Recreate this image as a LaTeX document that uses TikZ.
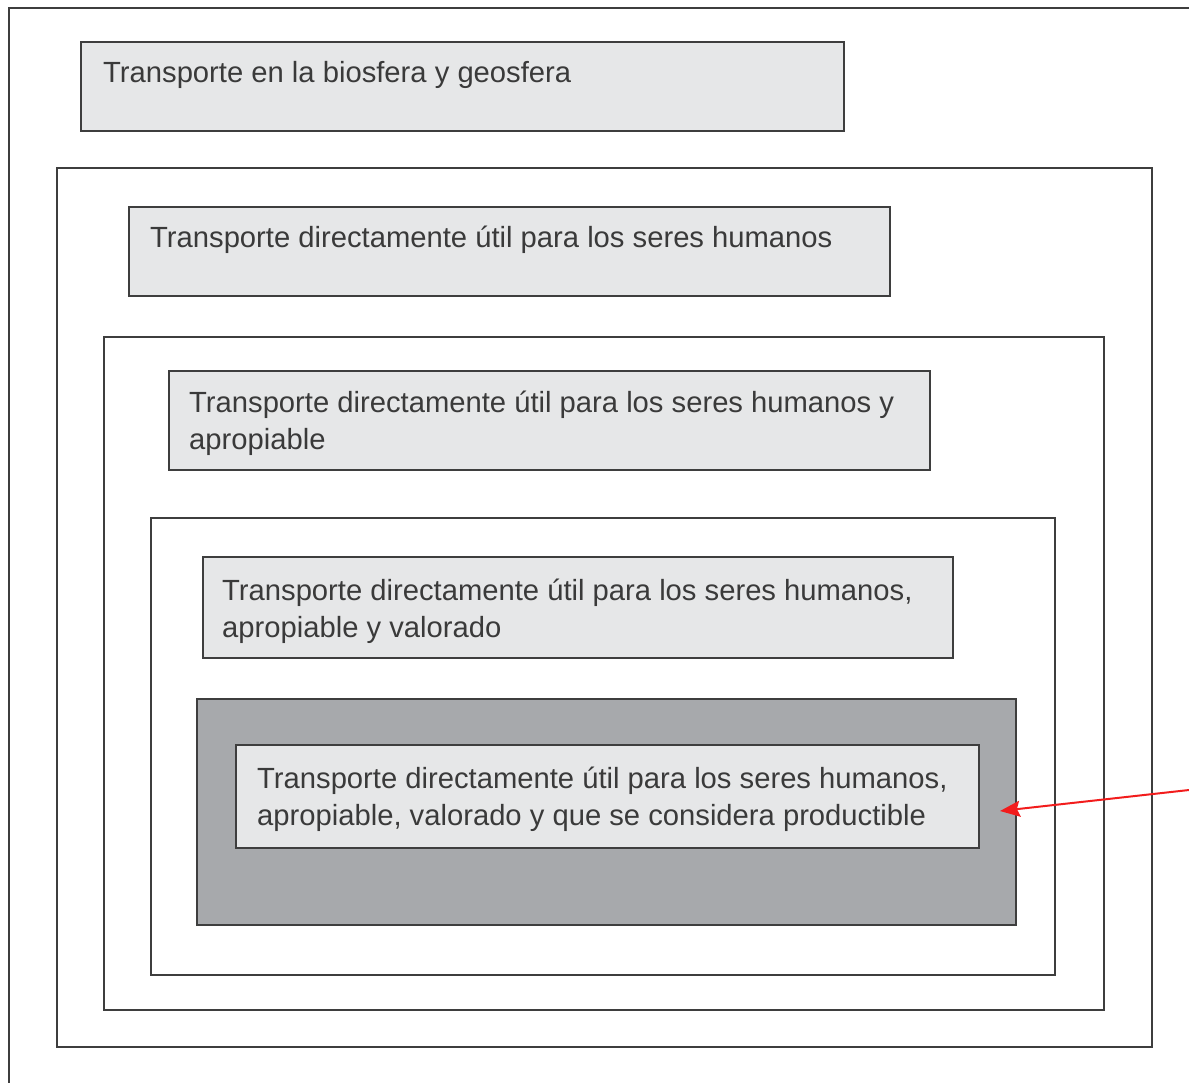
\documentclass[tikz,border=0pt]{standalone}
\usepackage{fontspec}
\setmainfont{Liberation Sans}
\usetikzlibrary{arrows.meta}
\definecolor{lightbox}{HTML}{E6E7E8}
\definecolor{darkbox}{HTML}{A7A9AC}
\definecolor{edge}{HTML}{3E3E3E}
\definecolor{txt}{HTML}{3A3A3A}
\definecolor{arrowred}{HTML}{F21C1C}
\begin{document}
\begin{tikzpicture}[x=1pt,y=-1pt,
  frame/.style={draw=edge,line width=1.6pt},
  labelbox/.style={draw=edge,line width=1.6pt,fill=lightbox},
  shadebox/.style={draw=edge,line width=1.6pt,fill=darkbox},
  boxtext/.style={anchor=base west,inner sep=0pt,align=left,text=txt,
    font=\fontsize{29.2}{37}\selectfont},
  pointer/.style={draw=arrowred,line width=2pt,-{Stealth[length=20pt,width=16pt,inset=3pt]}}]
\useasboundingbox (0,0) rectangle (1189,1083);
\fill[white] (0,0) rectangle (1189,1083);
\begin{scope}
\clip (0,0) rectangle (1189,1083);
\draw[frame] (9,8) rectangle (1210,1110);
\end{scope}
% level 1
\draw[labelbox] (81,42) rectangle (844,131);
\node[boxtext] (t1) at (103,83) {Transporte en la biosfera y geosfera};
% level 2
\draw[frame] (57,168) rectangle (1152,1047);
\draw[labelbox] (129,207) rectangle (890,296);
\node[boxtext] (t2) at (150,248) {Transporte directamente útil para los seres humanos};
% level 3
\draw[frame] (104,337) rectangle (1104,1010);
\draw[labelbox] (169,371) rectangle (930,470);
\node[boxtext] (t3) at (189,449) {Transporte directamente útil para los seres humanos y\\apropiable};
% level 4
\draw[frame] (151,518) rectangle (1055,975);
\draw[labelbox] (203,557) rectangle (953,658);
\node[boxtext] (t4) at (222,637) {Transporte directamente útil para los seres humanos,\\apropiable y valorado};
% level 5
\draw[shadebox] (197,699) rectangle (1016,925);
\draw[labelbox] (236,745) rectangle (979,848);
\node[boxtext] (t5) at (257,825) {Transporte directamente útil para los seres humanos,\\apropiable, valorado y que se considera productible};
% pointer
\coordinate (ptrstart) at (1189,790);
\coordinate (ptrtip) at (1000,811);
\draw[pointer] (ptrstart) -- (ptrtip);
\end{tikzpicture}
\end{document}
